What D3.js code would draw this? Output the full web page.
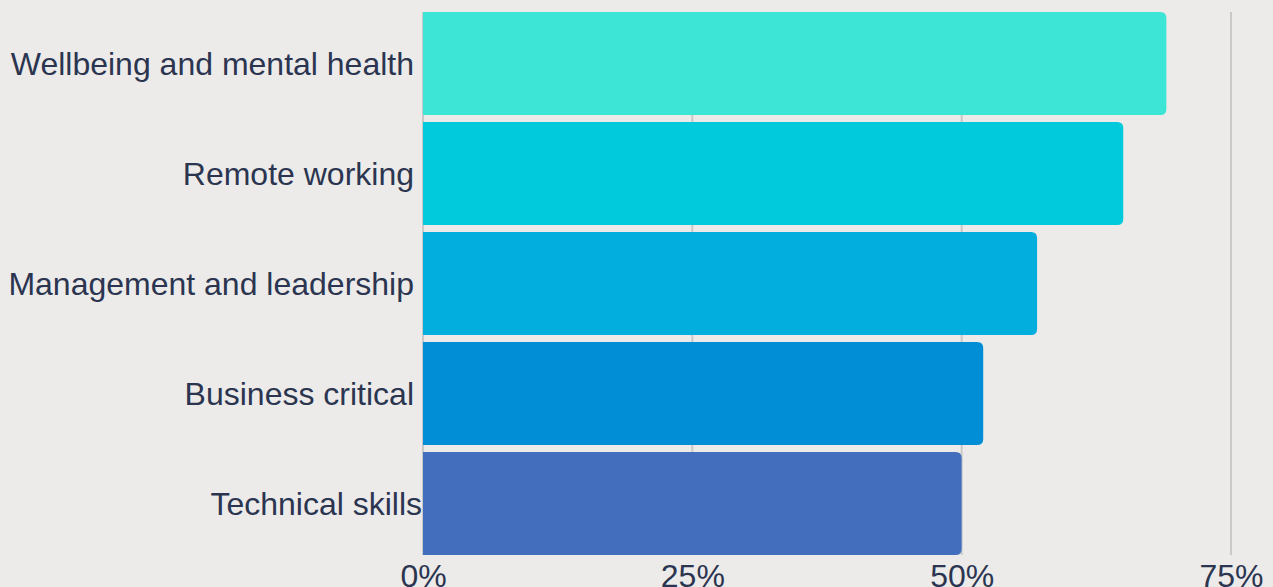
<!DOCTYPE html>
<html>
<head>
<meta charset="utf-8">
<script src="https://cdn.jsdelivr.net/npm/d3@7"></script>
<style>
  html, body { margin: 0; padding: 0; background: #ecebea; }
  svg { display: block; }
</style>
</head>
<body>
<svg id="chart" width="1273" height="587"></svg>
<script>
// Share of respondents per training topic
const categories = [
  "Wellbeing and mental health",
  "Remote working",
  "Management and leadership",
  "Business critical",
  "Technical skills"
];
const values = [69, 65, 57, 52, 50];
const colors = ["#3de5d6", "#00cadc", "#02aedd", "#018ed6", "#436ebd"];
const tickValues = [0, 25, 50, 75];
const tickLabels = ["0%", "25%", "50%", "75%"];

const width = 1273, height = 587;
const margin = { top: 12, right: 42, bottom: 32, left: 423 };

const svg = d3.select("#chart");
svg.append("rect").attr("width", width).attr("height", height).attr("fill", "#ecebea");

const x = d3.scaleLinear().domain([0, 75]).range([margin.left, width - margin.right]);
const y = d3.scaleBand().domain(categories)
  .range([margin.top, height - margin.bottom])
  .paddingInner(0.064).paddingOuter(0);

// vertical grid lines
svg.append("g").selectAll("line").data(tickValues).join("line")
  .attr("x1", d => x(d)).attr("x2", d => x(d))
  .attr("y1", margin.top).attr("y2", y.range()[1])
  .attr("stroke", "#c9c9c9").attr("stroke-width", 2);

// bars with rounded right end only
const r = 6;
function barPath(x0, x1, y0, h) {
  const rr = Math.min(r, (x1 - x0) / 2, h / 2);
  return `M${x0},${y0}H${x1 - rr}Q${x1},${y0} ${x1},${y0 + rr}V${y0 + h - rr}Q${x1},${y0 + h} ${x1 - rr},${y0 + h}H${x0}Z`;
}
svg.append("g").selectAll("path").data(categories).join("path")
  .attr("d", (c, i) => barPath(x(0), x(values[i]), y(c), y.bandwidth()))
  .attr("fill", (c, i) => colors[i]);

// category labels (the last one sits flush against its bar)
const last = categories.length - 1;
svg.append("g").selectAll("text").data(categories).join("text")
  .attr("x", (c, i) => x(0) - (i === last ? 1 : 9))
  .attr("y", c => y(c) + y.bandwidth() / 2)
  .attr("dy", "0.35em")
  .attr("text-anchor", "end")
  .attr("font-family", "'Liberation Sans', Arial, sans-serif")
  .attr("font-size", 32)
  .attr("fill", "#2b3550")
  .text(c => c);

// x axis tick labels
const xAxis = d3.axisBottom(x).tickValues(tickValues)
  .tickFormat((d, i) => tickLabels[i]).tickSize(0).tickPadding(0);
const gx = svg.append("g").attr("transform", `translate(0,${y.range()[1]})`).call(xAxis);
gx.select(".domain").remove();
gx.selectAll("text")
  .attr("y", 0).attr("dy", "0.99em")
  .attr("font-family", "'Liberation Sans', Arial, sans-serif")
  .attr("font-size", 32)
  .attr("fill", "#2b3550");
</script>
</body>
</html>
